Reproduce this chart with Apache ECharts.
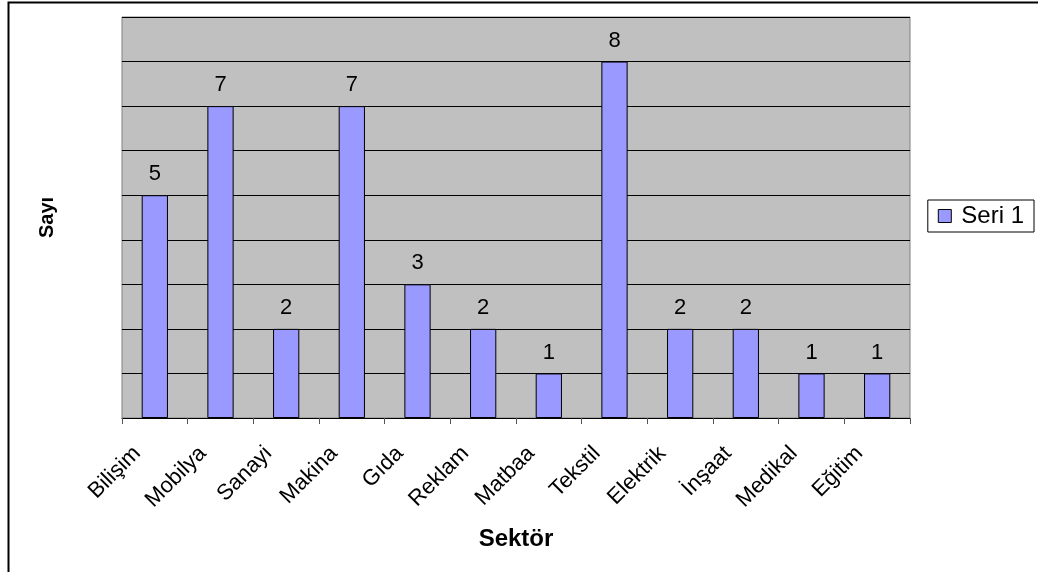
<!DOCTYPE html>
<html>
<head>
<meta charset="utf-8">
<script src="https://cdn.jsdelivr.net/npm/echarts@6/dist/echarts.min.js"></script>
<style>
html, body { margin:0; padding:0; background:#fff; }
#chart { width:1038px; height:572px; }
</style>
</head>
<body>
<div id="chart"></div>
<script>
// sektör isimleri ve sayılar
var sektorler = ['Bilişim','Mobilya','Sanayi','Makina','Gıda','Reklam','Matbaa','Tekstil','Elektrik','İnşaat','Medikal','Eğitim'];
var sayilar = [5,7,2,7,3,2,1,8,2,2,1,1];
var seriAdi = 'Seri 1';

var chart = echarts.init(document.getElementById('chart'));
var yaziTipi = '"Liberation Sans", Arial, sans-serif';

var option = {
	animation:false,
	textStyle:{fontFamily:yaziTipi},
	graphic:[
		// dış çerçeve (sağ ve alt kenar resim dışında)
		{type:'rect', shape:{x:8.5, y:2.5, width:1200, height:800}, style:{fill:null, stroke:'#000', lineWidth:2}, z:-1}
	],
	legend:{
		right:4, top:200,
		orient:'vertical',
		backgroundColor:'#fff',
		borderColor:'#000',
		borderWidth:1,
		padding:[4,10,4,10],
		itemWidth:13, itemHeight:13,
		itemGap:0,
		icon:'rect',
		itemStyle:{borderColor:'#000', borderWidth:1},
		textStyle:{fontSize:24, color:'#000', fontFamily:yaziTipi, padding:[0,0,0,5]},
		data:[seriAdi]
	},
	grid:{
		left:122, top:17, width:788, height:401,
		show:true,
		backgroundColor:'#c0c0c0',
		borderColor:'#808080',
		borderWidth:1
	},
	xAxis:{
		type:'category',
		data:sektorler,
		name:'Sektör',
		nameLocation:'middle',
		nameGap:109,
		nameTextStyle:{fontSize:24, fontWeight:'bold', color:'#000'},
		axisLine:{lineStyle:{color:'#000', width:1}},
		axisTick:{show:true, length:6, lineStyle:{color:'#555'}},
		// etiketleri biraz sola kaydır
		axisLabel:{rotate:45, margin:30, fontSize:22, color:'#000', interval:0, verticalAlign:'bottom', padding:[0,14,0,0]}
	},
	yAxis:{
		type:'value',
		min:0, max:9, interval:1,
		name:'Sayı',
		nameLocation:'middle',
		nameGap:65,
		nameRotate:90,
		nameTextStyle:{fontSize:20, fontWeight:'bold', color:'#000'},
		axisLine:{show:false},
		axisTick:{show:false},
		axisLabel:{show:false},
		splitLine:{lineStyle:{color:'#000', width:1}}
	},
	series:[{
		name:seriAdi,
		type:'bar',
		data:sayilar,
		barWidth:'40%',
		itemStyle:{color:'#9999ff', borderColor:'#000', borderWidth:1},
		label:{show:true, position:'top', distance:10, fontSize:22, color:'#000'}
	}]
};
chart.setOption(option);
</script>
</body>
</html>
